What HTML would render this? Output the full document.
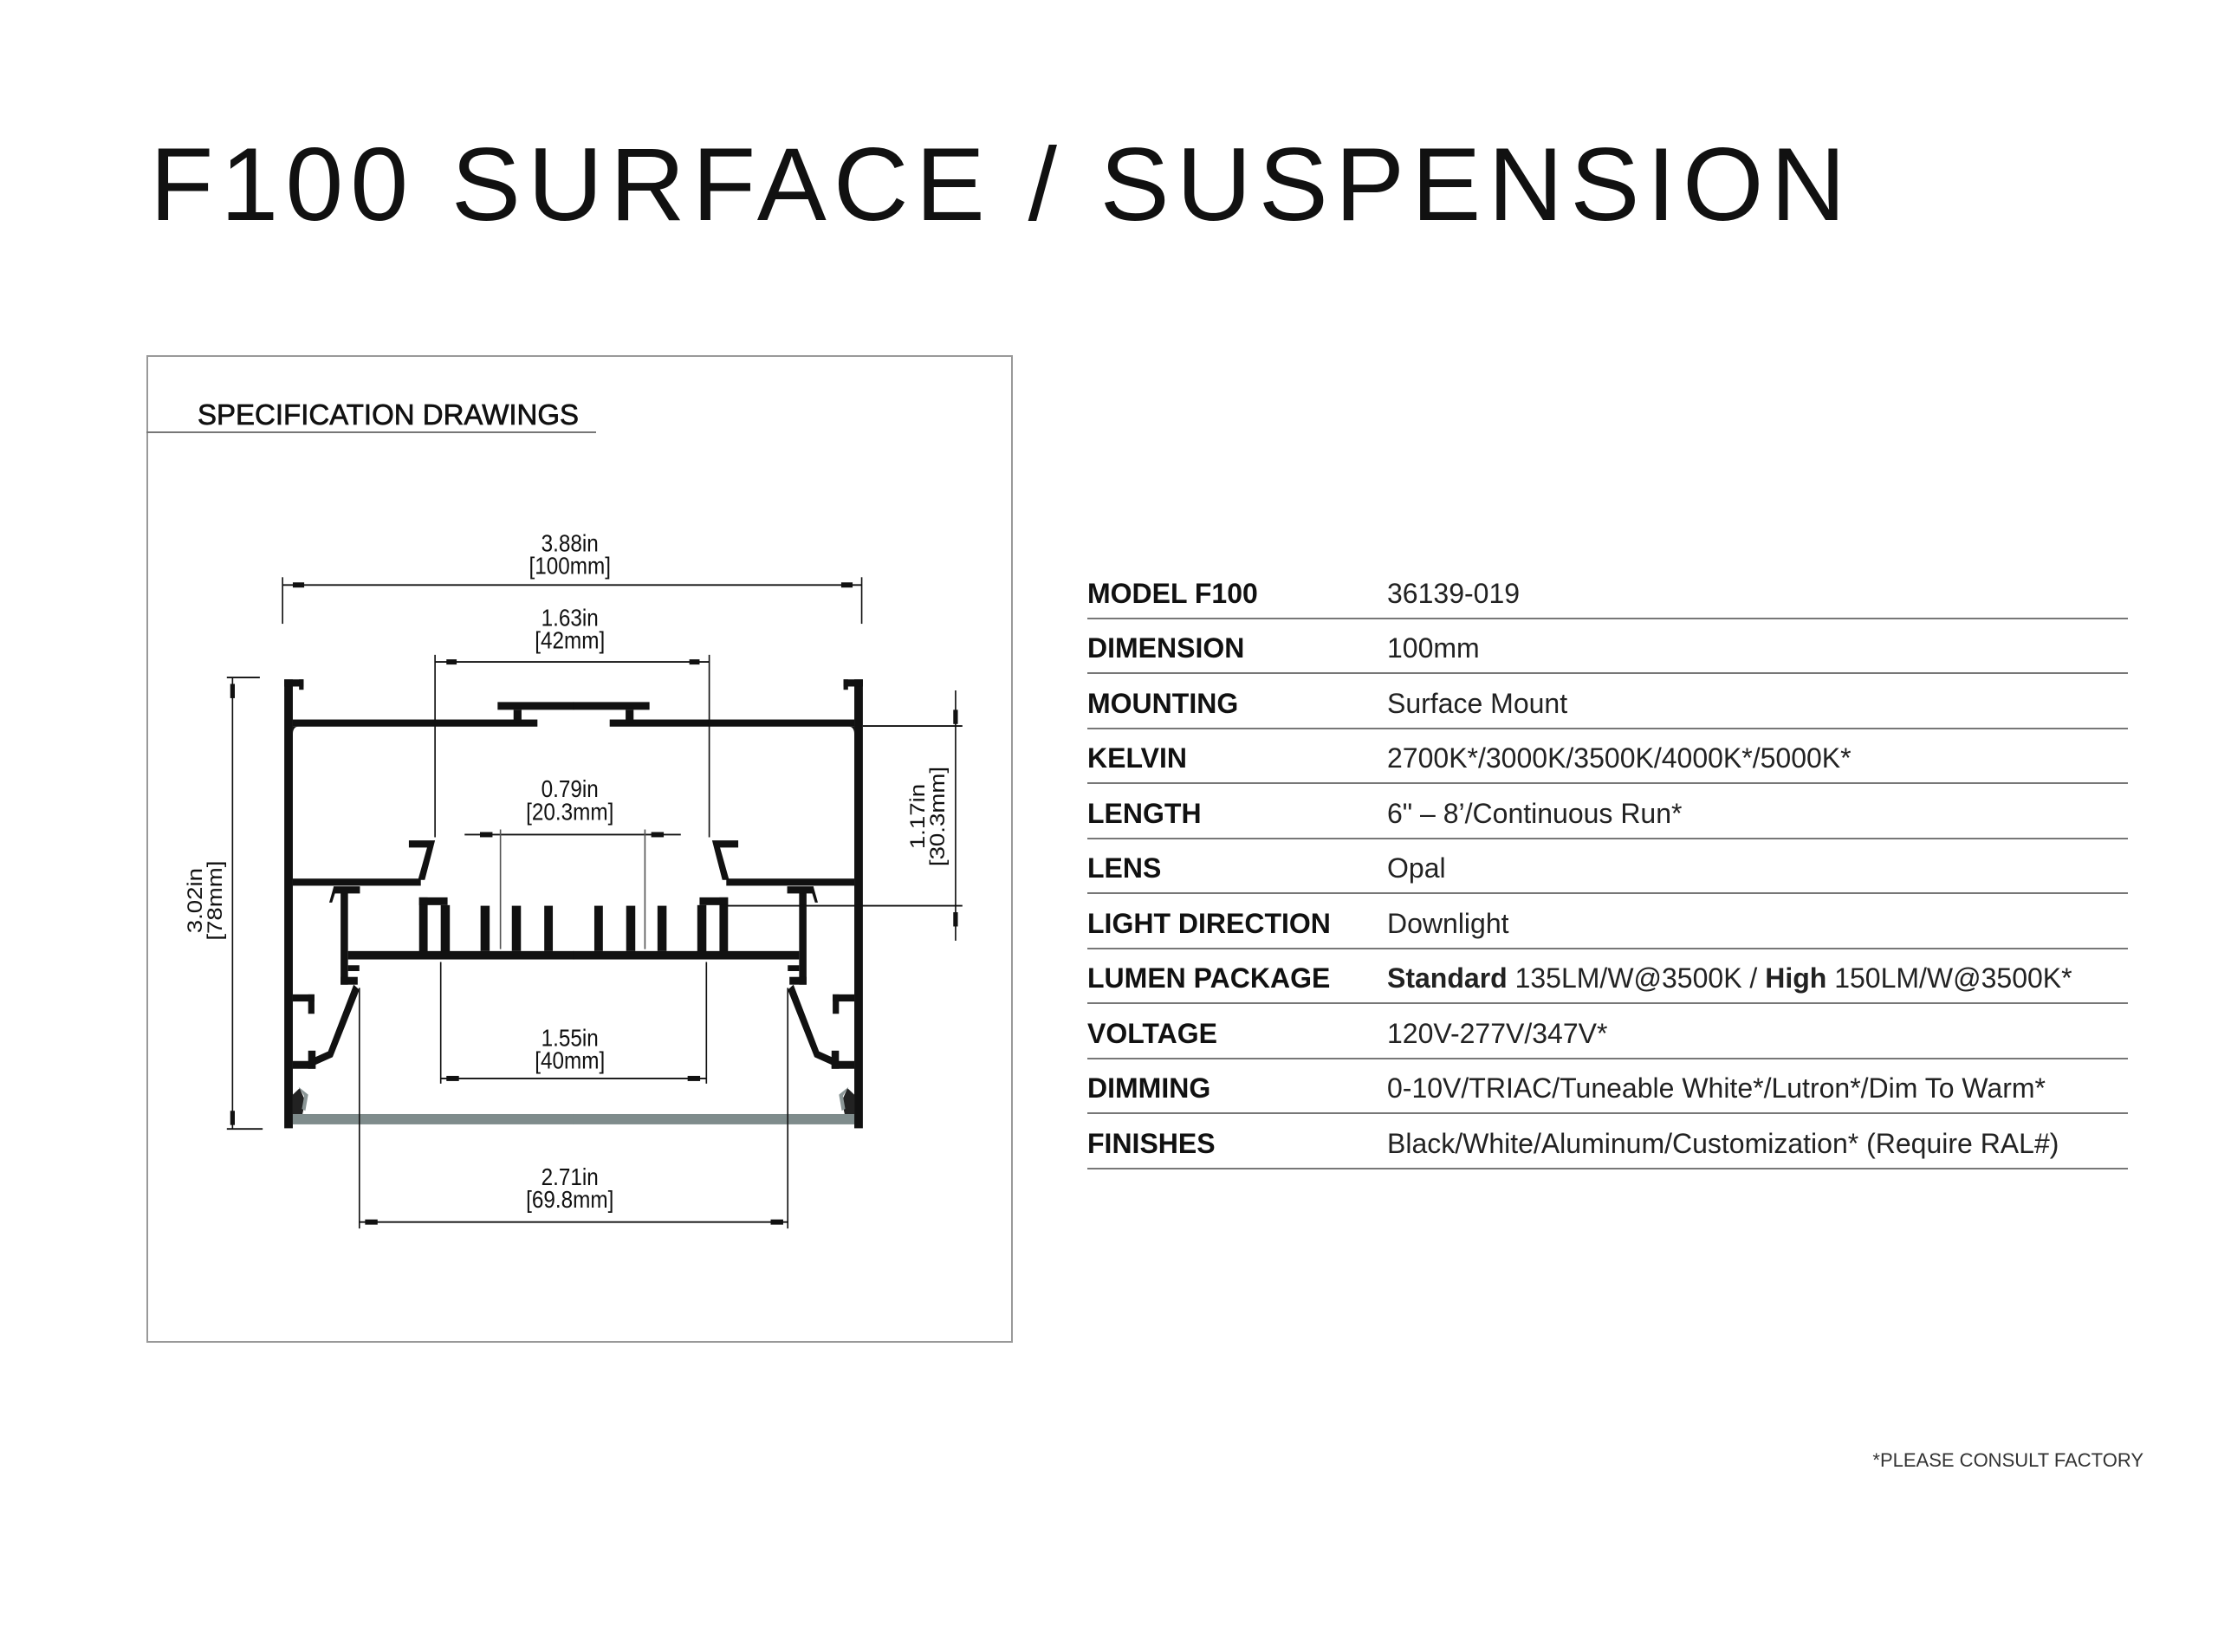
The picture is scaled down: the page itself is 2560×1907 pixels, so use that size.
<!DOCTYPE html>
<html><head><meta charset="utf-8"><style>
html,body{margin:0;padding:0;background:#fff;}
body{width:2560px;height:1907px;position:relative;overflow:hidden;font-family:"Liberation Sans",sans-serif;color:#111;}
.title{position:absolute;left:173px;top:148px;font-size:120px;line-height:130px;letter-spacing:8.2px;white-space:nowrap;color:#111;}
.panel{position:absolute;left:169px;top:410px;width:1000px;height:1140px;border:2px solid #999;box-sizing:border-box;}
.sh{position:absolute;left:228px;top:460px;font-size:33px;line-height:38px;white-space:nowrap;-webkit-text-stroke:0.7px #111;}
.shl{position:absolute;left:169px;top:498px;width:519px;height:2px;background:#777;}
.row{position:absolute;left:1255px;width:1201px;height:63px;}
.lab{position:absolute;left:0;top:22px;font-size:32px;font-weight:bold;line-height:36px;white-space:nowrap;}
.val{position:absolute;left:346px;top:22px;font-size:32px;line-height:36px;white-space:nowrap;color:#222;}
.ln{position:absolute;left:1255px;width:1201px;height:2px;background:#777;}
.foot{position:absolute;right:86px;top:1674px;font-size:22px;line-height:24px;white-space:nowrap;color:#333;}
svg{position:absolute;left:0;top:0;}
</style></head><body>
<div class="title">F100 SURFACE / SUSPENSION</div>
<div class="panel"></div>
<div class="sh">SPECIFICATION DRAWINGS</div>
<div class="shl"></div>

<svg width="2560" height="1907" viewBox="0 0 2560 1907">
<g transform="translate(162,405) scale(0.6566,0.7466)">
 <g id="half" fill="#111">
  <rect x="253" y="508" width="15" height="694"/>
  <rect x="253" y="508" width="34" height="11"/>
  <rect x="279" y="508" width="8" height="16"/>
  <rect x="268" y="570" width="430" height="11"/>
  <rect x="628" y="543" width="134" height="12"/>
  <rect x="656" y="555" width="14" height="20"/>
  <path d="M268,581 h10 q-10,0 -10,12 z"/>
  <rect x="268" y="816" width="225" height="11"/>
  <path d="M472,757 L518,757 L500,818 L488,818 L504,768 L472,768 Z"/>
  <rect x="490" y="845" width="15" height="95"/>
  <rect x="490" y="845" width="50" height="12"/>
  <rect x="528" y="857" width="16" height="83"/>
  <rect x="365" y="928" width="397" height="13"/>
  <rect x="598" y="858" width="16" height="70"/>
  <rect x="653" y="858" width="16" height="70"/>
  <rect x="710" y="858" width="15" height="70"/>
  <rect x="352" y="830" width="13" height="150"/>
  <rect x="340" y="828" width="46" height="11"/>
  <path d="M340,828 l-8,25 l5,0 l8,-22z"/>
  <rect x="365" y="950" width="20" height="9"/>
  <rect x="352" y="968" width="30" height="12"/>
  <path d="M375,980 L385,988 L338,1092 L305,1105 L300,1095 L330,1083 Z"/>
  <rect x="268" y="995" width="38" height="11"/>
  <rect x="295" y="995" width="11" height="30"/>
  <rect x="268" y="1098" width="40" height="12"/>
  <rect x="295" y="1082" width="13" height="28"/>
  <path d="M268,1150 L280,1140 L290,1160 L285,1180 L268,1180Z" fill="#222"/>
  <path d="M278,1138 L295,1150 L290,1175 L284,1172 L288,1152Z" fill="#8a9595"/>
  <rect x="268" y="1180" width="494" height="16" fill="#7f8c8c"/>
 </g>
 <use href="#half" transform="translate(1523,0) scale(-1,1)"/>

 <g stroke="#111" stroke-width="2.5" fill="none">
  <line x1="250" y1="362" x2="1268" y2="362"/>
  <line x1="250" y1="350" x2="250" y2="422"/>
  <line x1="1268" y1="350" x2="1268" y2="422"/>
  <line x1="518" y1="481" x2="1000" y2="481"/>
  <line x1="518" y1="470" x2="518" y2="752"/>
  <line x1="1000" y1="470" x2="1000" y2="752"/>
  <line x1="570" y1="748" x2="950" y2="748"/>
  <line x1="633" y1="740" x2="633" y2="925" stroke="#555"/>
  <line x1="887" y1="740" x2="887" y2="925" stroke="#555"/>
  <line x1="528" y1="1125" x2="995" y2="1125"/>
  <line x1="528" y1="945" x2="528" y2="1133"/>
  <line x1="995" y1="945" x2="995" y2="1133"/>
  <line x1="385" y1="1347" x2="1138" y2="1347"/>
  <line x1="385" y1="985" x2="385" y2="1357"/>
  <line x1="1138" y1="985" x2="1138" y2="1357"/>
  <line x1="162" y1="505" x2="162" y2="1203"/>
  <line x1="152" y1="505" x2="210" y2="505"/>
  <line x1="152" y1="1203" x2="215" y2="1203"/>
  <line x1="1433" y1="525" x2="1433" y2="912"/>
  <line x1="1270" y1="580" x2="1445" y2="580"/>
  <line x1="1030" y1="858" x2="1445" y2="858"/>
 </g>
 <g fill="#111">
  <rect x="268" y="358" width="20" height="8"/><rect x="1232" y="358" width="20" height="8"/>
  <rect x="538" y="477" width="18" height="8"/><rect x="965" y="477" width="18" height="8"/>
  <rect x="597" y="744" width="22" height="8"/><rect x="898" y="744" width="22" height="8"/>
  <rect x="538" y="1121" width="22" height="8"/><rect x="962" y="1121" width="22" height="8"/>
  <rect x="395" y="1343" width="22" height="8"/><rect x="1108" y="1343" width="22" height="8"/>
  <rect x="158" y="515" width="8" height="22"/><rect x="158" y="1175" width="8" height="22"/>
  <rect x="1429" y="555" width="8" height="22"/><rect x="1429" y="868" width="8" height="22"/>
 </g>
 <g font-family="'Liberation Sans Narrow','Liberation Sans',sans-serif" font-size="37" fill="#111" text-anchor="middle">
  <text x="755" y="310">3.88in</text><text x="755" y="345">[100mm]</text>
  <text x="755" y="425">1.63in</text><text x="755" y="460">[42mm]</text>
  <text x="755" y="690">0.79in</text><text x="755" y="725">[20.3mm]</text>
  <text x="755" y="1075">1.55in</text><text x="755" y="1110">[40mm]</text>
  <text x="755" y="1290">2.71in</text><text x="755" y="1325">[69.8mm]</text>
  <g transform="translate(108,850) rotate(-90)"><text x="0" y="0">3.02in</text><text x="0" y="35">[78mm]</text></g>
  <g transform="translate(1378,720) rotate(-90)"><text x="0" y="0">1.17in</text><text x="0" y="35">[30.3mm]</text></g>
 </g>
</g>
</svg>

<div class="row" style="top:645px"><div class="lab">MODEL F100</div><div class="val">36139-019</div></div>
<div class="ln" style="top:713px"></div>
<div class="row" style="top:708px"><div class="lab">DIMENSION</div><div class="val">100mm</div></div>
<div class="ln" style="top:776px"></div>
<div class="row" style="top:772px"><div class="lab">MOUNTING</div><div class="val">Surface Mount</div></div>
<div class="ln" style="top:840px"></div>
<div class="row" style="top:835px"><div class="lab">KELVIN</div><div class="val">2700K*/3000K/3500K/4000K*/5000K*</div></div>
<div class="ln" style="top:903px"></div>
<div class="row" style="top:899px"><div class="lab">LENGTH</div><div class="val">6" – 8’/Continuous Run*</div></div>
<div class="ln" style="top:967px"></div>
<div class="row" style="top:962px"><div class="lab">LENS</div><div class="val">Opal</div></div>
<div class="ln" style="top:1030px"></div>
<div class="row" style="top:1026px"><div class="lab">LIGHT DIRECTION</div><div class="val">Downlight</div></div>
<div class="ln" style="top:1094px"></div>
<div class="row" style="top:1089px"><div class="lab">LUMEN PACKAGE</div><div class="val"><b>Standard</b> 135LM/W@3500K / <b>High</b> 150LM/W@3500K*</div></div>
<div class="ln" style="top:1157px"></div>
<div class="row" style="top:1153px"><div class="lab">VOLTAGE</div><div class="val">120V-277V/347V*</div></div>
<div class="ln" style="top:1221px"></div>
<div class="row" style="top:1216px"><div class="lab">DIMMING</div><div class="val">0-10V/TRIAC/Tuneable White*/Lutron*/Dim To Warm*</div></div>
<div class="ln" style="top:1284px"></div>
<div class="row" style="top:1280px"><div class="lab">FINISHES</div><div class="val">Black/White/Aluminum/Customization* (Require RAL#)</div></div>
<div class="ln" style="top:1348px"></div>

<div class="foot">*PLEASE CONSULT FACTORY</div>
</body></html>
